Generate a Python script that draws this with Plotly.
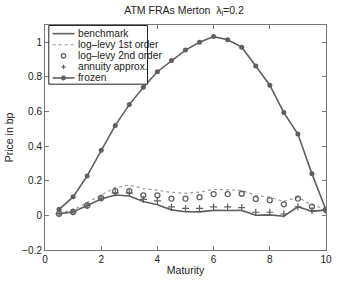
import plotly.graph_objects as go

maturity = [0.5, 1.0, 1.5, 2.0, 2.5, 3.0, 3.5, 4.0, 4.5, 5.0,
            5.5, 6.0, 6.5, 7.0, 7.5, 8.0, 8.5, 9.0, 9.5, 10.0]
benchmark = [0.010, 0.020, 0.057, 0.095, 0.118, 0.112, 0.080, 0.062, 0.032, 0.021,
             0.020, 0.029, 0.028, 0.029, 0.001, 0.003, -0.005, 0.050, 0.023, 0.032]
loglevy_1st = [0.015, 0.030, 0.075, 0.120, 0.160, 0.175, 0.155, 0.145, 0.133, 0.128,
               0.135, 0.150, 0.148, 0.145, 0.115, 0.105, 0.080, 0.105, 0.060, 0.035]
loglevy_2nd = [0.010, 0.020, 0.057, 0.100, 0.140, 0.140, 0.116, 0.116, 0.097, 0.097,
               0.105, 0.123, 0.123, 0.125, 0.095, 0.088, 0.064, 0.097, 0.051, 0.032]
annuity = [0.010, 0.020, 0.057, 0.100, 0.130, 0.130, 0.092, 0.084, 0.049, 0.040,
           0.040, 0.049, 0.049, 0.045, 0.018, 0.018, 0.008, 0.050, 0.027, 0.030]
frozen = [0.035, 0.107, 0.228, 0.376, 0.520, 0.640, 0.740, 0.830, 0.895, 0.955,
          1.000, 1.033, 1.015, 0.972, 0.863, 0.752, 0.594, 0.470, 0.240, 0.032]

legend_labels = ["benchmark", "log\u2013levy 1st order", "log\u2013levy 2nd order",
                 "annuity approx.", "frozen"]
x_ticks = [0, 2, 4, 6, 8, 10]
y_ticks = [-0.2, 0, 0.2, 0.4, 0.6, 0.8, 1.0]

W, H = 341, 283
L, R, T, B = 36, 332, 24.5, 258.3
DARK = "#5f5f5f"
LIGHT = "#9a9a9a"
FONT = "Liberation Sans, Arial, sans-serif"

fig = go.Figure()
fig.add_trace(go.Scatter(x=maturity, y=benchmark, mode="lines",
                         line=dict(color=DARK, width=1.6), name=legend_labels[0]))
fig.add_trace(go.Scatter(x=maturity, y=loglevy_1st, mode="lines",
                         line=dict(color=LIGHT, width=1.2, dash="dot"), name=legend_labels[1]))
fig.add_trace(go.Scatter(x=maturity, y=loglevy_2nd, mode="markers",
                         marker=dict(symbol="circle-open", size=5, color=DARK,
                                     line=dict(width=1.3, color=DARK)), name=legend_labels[2]))
fig.add_trace(go.Scatter(x=maturity, y=annuity, mode="markers",
                         marker=dict(symbol="cross-thin-open", size=5, color=DARK,
                                     line=dict(width=1.2, color=DARK)), name=legend_labels[3]))
fig.add_trace(go.Scatter(x=maturity, y=frozen, mode="lines+markers",
                         line=dict(color=DARK, width=1.6),
                         marker=dict(symbol="circle", size=5, color=DARK), name=legend_labels[4]))


def px(xp):
    return (xp - L) / (R - L)


def py(yp):
    return (B - yp) / (B - T)


# custom MATLAB-like legend box (layout decoration)
shapes = []
annotations = []
bx0, bx1, by0, by1 = 40, 144, 25, 86
shapes.append(dict(type="rect", xref="paper", yref="paper",
                   x0=px(bx0), x1=px(bx1), y0=py(by1), y1=py(by0),
                   fillcolor="white", line=dict(color="#222222", width=1), layer="above"))
rows = [33.5, 45, 56.5, 68, 79.5]
lx0, lx1, lxc, tx = 44, 67, 55.5, 69
shapes.append(dict(type="line", xref="paper", yref="paper", x0=px(lx0), x1=px(lx1),
                   y0=py(rows[0]), y1=py(rows[0]), line=dict(color=DARK, width=1.6), layer="above"))
shapes.append(dict(type="line", xref="paper", yref="paper", x0=px(lx0), x1=px(lx1),
                   y0=py(rows[1]), y1=py(rows[1]), line=dict(color=LIGHT, width=1.2, dash="dot"),
                   layer="above"))
r = 2.3
shapes.append(dict(type="circle", xref="paper", yref="paper", x0=px(lxc - r), x1=px(lxc + r),
                   y0=py(rows[2] + r), y1=py(rows[2] - r), line=dict(color=DARK, width=1.3),
                   layer="above"))
p = 2.3
shapes.append(dict(type="line", xref="paper", yref="paper", x0=px(lxc - p), x1=px(lxc + p),
                   y0=py(rows[3]), y1=py(rows[3]), line=dict(color=DARK, width=1.2), layer="above"))
shapes.append(dict(type="line", xref="paper", yref="paper", x0=px(lxc), x1=px(lxc),
                   y0=py(rows[3] - p), y1=py(rows[3] + p), line=dict(color=DARK, width=1.2),
                   layer="above"))
shapes.append(dict(type="line", xref="paper", yref="paper", x0=px(lx0), x1=px(lx1),
                   y0=py(rows[4]), y1=py(rows[4]), line=dict(color=DARK, width=1.6), layer="above"))
d = 2.3
shapes.append(dict(type="circle", xref="paper", yref="paper", x0=px(lxc - d), x1=px(lxc + d),
                   y0=py(rows[4] + d), y1=py(rows[4] - d), fillcolor=DARK,
                   line=dict(color=DARK, width=0.5), layer="above"))
for lab, yy in zip(legend_labels, rows):
    annotations.append(dict(text=lab, xref="paper", yref="paper", x=px(tx), y=py(yy),
                            xanchor="left", yanchor="middle", showarrow=False,
                            font=dict(family=FONT, size=10.2, color="#222222")))

fig.update_layout(
    width=W, height=H,
    margin=dict(l=L, r=W - R, t=T, b=H - B),
    paper_bgcolor="white", plot_bgcolor="white",
    showlegend=False,
    font=dict(family=FONT, size=10, color="#222222"),
    title=dict(text="ATM FRAs Merton  \u03bb<sub>l</sub>=0.2", x=(L + R) / 2 / W, xanchor="center",
               y=1 - 10 / H, yanchor="middle", font=dict(family=FONT, size=10.5, color="#222222")),
    shapes=shapes, annotations=annotations,
)
fig.update_xaxes(range=[0, 10], tickvals=x_ticks, ticktext=[str(v) for v in x_ticks],
                 ticks="inside", ticklen=4, tickcolor="#777777", showline=True,
                 linecolor="#777777", linewidth=1, mirror="ticks", showgrid=False, zeroline=False,
                 ticklabeloverflow="allow",
                 title=dict(text="Maturity", standoff=2, font=dict(size=10.5)))
fig.update_yaxes(range=[-0.2, 1.1], tickvals=y_ticks,
                 ticktext=["\u22120.2", "0", "0.2", "0.4", "0.6", "0.8", "1"],
                 ticks="inside", ticklen=4, tickcolor="#777777", showline=True,
                 linecolor="#777777", linewidth=1, mirror="ticks", showgrid=False, zeroline=False,
                 title=dict(text="Price in bp", standoff=6, font=dict(size=10.5)))

fig.write_html("out.html", config={"displayModeBar": False},
               post_script="document.body.style.margin='0';document.body.style.overflow='hidden';")
